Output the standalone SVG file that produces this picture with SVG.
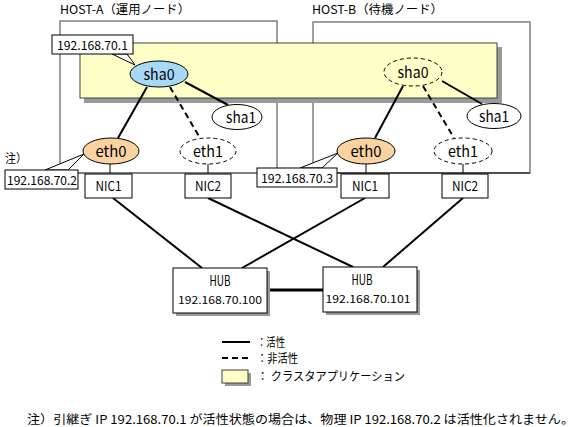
<svg xmlns="http://www.w3.org/2000/svg" width="578" height="427" viewBox="0 0 578 427">
<style>
text{font-family:"Noto Sans CJK JP","Liberation Sans",sans-serif;fill:#000}
.host{fill:none;stroke:#808080;stroke-width:1.5}
.app{fill:#ffffc8;stroke:#404040;stroke-width:1}
.shadow{fill:#9a9a9a}
.box{fill:#fff;stroke:#000;stroke-width:1}
.solid{stroke:#000;stroke-width:2;fill:none}
.dash{stroke:#000;stroke-width:2;stroke-dasharray:6,4;fill:none}
.thin{stroke:#000;stroke-width:1;fill:none}
.ell{stroke:#000;stroke-width:1}
.ell-d{stroke:#000;stroke-width:1;stroke-dasharray:4,3}
.lbl{font-size:12px}
.node{font-size:15px}
.nic{font-size:13px}
.hub{font-size:14px}
.hubip{font-size:11px}
</style>

<!-- Host frames -->
<g id="hostA">
  <polyline class="host" points="60,170 60,21 277,21 277,173"/>
  <text class="lbl" x="60" y="14" textLength="130" lengthAdjust="spacingAndGlyphs">HOST-A（運用ノード）</text>
</g>
<g id="hostB">
  <rect class="host" x="313" y="22" width="217" height="151"/>
  <text class="lbl" x="312" y="14" textLength="131" lengthAdjust="spacingAndGlyphs">HOST-B（待機ノード）</text>
</g>

<!-- Network line -->
<g id="connectors">
  <line class="thin" x1="78" y1="173" x2="530" y2="173"/>
</g>

<!-- Cluster application -->
<g id="cluster-app">
  <rect class="shadow" x="84" y="47" width="418" height="56"/>
  <rect class="app" x="80" y="43" width="417" height="55"/>
</g>

<g id="links">
  <!-- host A -->
  <line class="solid" x1="185" y1="82" x2="228" y2="105"/>
  <line class="solid" x1="147" y1="87" x2="118" y2="138"/>
  <line class="dash" x1="170" y1="87" x2="200" y2="138"/>
  <line class="thin" x1="110" y1="164" x2="110" y2="173"/>
  <line class="thin" x1="208" y1="164" x2="208" y2="173"/>
  <!-- host B -->
  <line class="solid" x1="442" y1="81" x2="482" y2="104"/>
  <line class="solid" x1="403" y1="86" x2="375" y2="138"/>
  <line class="dash" x1="423" y1="86" x2="454" y2="138"/>
  <line class="thin" x1="366" y1="164" x2="366" y2="173"/>
  <line class="thin" x1="463" y1="164" x2="463" y2="173"/>
  <!-- NICs to hubs -->
  <line class="solid" x1="113" y1="198" x2="202" y2="268"/>
  <line class="solid" x1="208" y1="198" x2="353" y2="267"/>
  <line class="solid" x1="365" y1="198" x2="242" y2="268"/>
  <line class="solid" x1="463" y1="198" x2="383" y2="267"/>
  <!-- hub to hub -->
  <line class="thin" style="stroke-width:3" x1="267" y1="290" x2="323" y2="290"/>
</g>

<!-- Host A nodes -->
<g id="ip1">
  <polygon points="112,54 135,65 127,54" fill="#fff" stroke="#000" stroke-width="1"/>
  <rect class="box" x="52" y="35" width="81" height="19"/>
  <text class="lbl" x="57" y="50" textLength="71" lengthAdjust="spacingAndGlyphs">192.168.70.1</text>
</g>
<g id="shaA0">
  <ellipse class="ell" cx="159" cy="74" rx="29" ry="13" fill="#a6d9f5"/>
  <text class="node" x="159" y="79.5" text-anchor="middle" textLength="31" lengthAdjust="spacingAndGlyphs">sha0</text>
</g>
<g id="shaA1">
  <ellipse class="ell" cx="237" cy="117" rx="25" ry="12.5" fill="#fff"/>
  <text class="node" x="241" y="122.5" text-anchor="middle" textLength="30" lengthAdjust="spacingAndGlyphs">sha1</text>
</g>
<g id="ethA0">
  <ellipse class="ell" cx="111" cy="151" rx="28" ry="13" fill="#fad3a0"/>
  <text class="node" x="111" y="156.5" text-anchor="middle" textLength="31" lengthAdjust="spacingAndGlyphs">eth0</text>
</g>
<g id="ethA1">
  <ellipse class="ell-d" cx="208" cy="151" rx="28" ry="13" fill="#fff"/>
  <text class="node" x="208" y="156.5" text-anchor="middle" textLength="30" lengthAdjust="spacingAndGlyphs">eth1</text>
</g>
<g id="nicA1">
  <rect class="box" x="85" y="174" width="47" height="24"/>
  <text class="nic" x="108.5" y="191" text-anchor="middle" textLength="26" lengthAdjust="spacingAndGlyphs">NIC1</text>
</g>
<g id="nicA2">
  <rect class="box" x="185" y="174" width="46" height="24"/>
  <text class="nic" x="208" y="191" text-anchor="middle" textLength="26" lengthAdjust="spacingAndGlyphs">NIC2</text>
</g>
<g id="note">
  <text class="lbl" x="5" y="163" textLength="22" lengthAdjust="spacingAndGlyphs">注）</text>
</g>
<g id="ip2">
  <polygon points="45,170 84,154 68,170" fill="#fff" stroke="#000" stroke-width="1"/>
  <rect class="box" x="5" y="170" width="73" height="19"/>
  <text class="lbl" x="7" y="185" textLength="70" lengthAdjust="spacingAndGlyphs">192.168.70.2</text>
</g>

<!-- Host B nodes -->
<g id="shaB0">
  <ellipse class="ell-d" cx="413" cy="72" rx="29" ry="14" fill="#ffffc8"/>
  <text class="node" x="413" y="77.5" text-anchor="middle" textLength="31" lengthAdjust="spacingAndGlyphs">sha0</text>
</g>
<g id="shaB1">
  <ellipse class="ell" cx="494" cy="116" rx="27" ry="12.5" fill="#fff"/>
  <text class="node" x="494" y="121.5" text-anchor="middle" textLength="30" lengthAdjust="spacingAndGlyphs">sha1</text>
</g>
<g id="ethB0">
  <ellipse class="ell" cx="366" cy="151" rx="29" ry="13" fill="#fad3a0"/>
  <text class="node" x="366" y="156.5" text-anchor="middle" textLength="31" lengthAdjust="spacingAndGlyphs">eth0</text>
</g>
<g id="ethB1">
  <ellipse class="ell-d" cx="463" cy="151" rx="29" ry="13" fill="#fff"/>
  <text class="node" x="463" y="156.5" text-anchor="middle" textLength="30" lengthAdjust="spacingAndGlyphs">eth1</text>
</g>
<g id="ip3">
  <polygon points="300,168 338,153 322,168" fill="#fff" stroke="#000" stroke-width="1"/>
  <rect class="box" x="257" y="168" width="80" height="19"/>
  <text class="lbl" x="261" y="183" textLength="72" lengthAdjust="spacingAndGlyphs">192.168.70.3</text>
</g>
<g id="nicB1">
  <rect class="box" x="341" y="174" width="48" height="24"/>
  <text class="nic" x="365" y="191" text-anchor="middle" textLength="26" lengthAdjust="spacingAndGlyphs">NIC1</text>
</g>
<g id="nicB2">
  <rect class="box" x="442" y="174" width="46" height="24"/>
  <text class="nic" x="465" y="191" text-anchor="middle" textLength="26" lengthAdjust="spacingAndGlyphs">NIC2</text>
</g>

<!-- Hubs -->
<g id="hub1">
  <rect class="shadow" x="176" y="271" width="94" height="45"/>
  <rect class="box" x="173" y="268" width="94" height="45"/>
  <text class="hub" x="220" y="286" text-anchor="middle" textLength="21" lengthAdjust="spacingAndGlyphs">HUB</text>
  <text class="hubip" x="220" y="304" text-anchor="middle" textLength="84" lengthAdjust="spacingAndGlyphs">192.168.70.100</text>
</g>
<g id="hub2">
  <rect class="shadow" x="326" y="270" width="94" height="45"/>
  <rect class="box" x="323" y="267" width="94" height="45"/>
  <text class="hub" x="362" y="285" text-anchor="middle" textLength="21" lengthAdjust="spacingAndGlyphs">HUB</text>
  <text class="hubip" x="368" y="303" text-anchor="middle" textLength="85" lengthAdjust="spacingAndGlyphs">192.168.70.101</text>
</g>

<!-- Legend -->
<g id="legend">
  <line class="solid" x1="222" y1="342" x2="250" y2="342"/>
  <text class="lbl" x="257" y="347" textLength="28" lengthAdjust="spacingAndGlyphs">：活性</text>
  <line class="dash" x1="222" y1="358" x2="250" y2="358"/>
  <text class="lbl" x="257" y="363" textLength="41" lengthAdjust="spacingAndGlyphs">：非活性</text>
  <rect class="shadow" x="225" y="373" width="26" height="13"/>
  <rect class="app" x="222" y="370" width="26" height="13"/>
  <text class="lbl" x="257" y="381" textLength="148" lengthAdjust="spacingAndGlyphs">： クラスタアプリケーション</text>
</g>

<g id="footnote">
  <text class="lbl" x="27" y="424" textLength="547" lengthAdjust="spacingAndGlyphs">注）引継ぎ IP 192.168.70.1 が活性状態の場合は、物理 IP 192.168.70.2 は活性化されません。</text>
</g>
</svg>
